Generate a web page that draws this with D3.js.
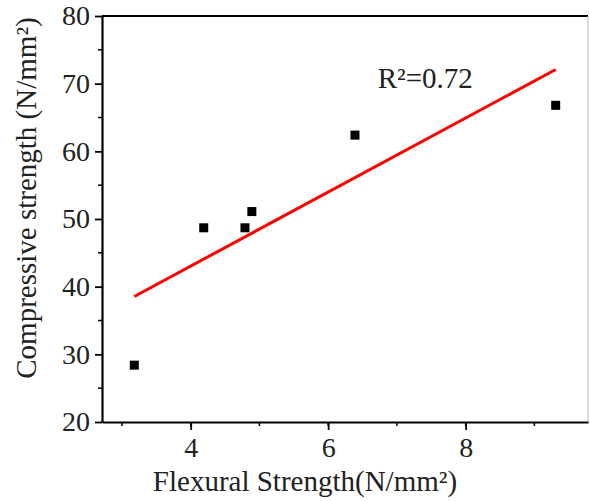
<!DOCTYPE html>
<html>
<head>
<meta charset="utf-8">
<script src="https://cdn.jsdelivr.net/npm/d3@7"></script>
<style>
  body { margin: 0; background: #fff; }
  text { font-family: "Liberation Serif", "Times New Roman", serif; }
</style>
</head>
<body>
<svg width="590" height="501"></svg>
<script>
// data
var flexural = [3.18, 4.19, 4.79, 4.89, 6.39, 9.31];
var compressive = [28.4, 48.7, 48.7, 51.1, 62.4, 66.8];
var xTicks = [4, 6, 8];
var yTicks = [20, 30, 40, 50, 60, 70, 80];
var r2Label = "R²=0.72";

var svg = d3.select("svg"),
    margin = {top: 16, right: 2, bottom: 79, left: 102},
    width = +svg.attr("width") - margin.left - margin.right,
    height = +svg.attr("height") - margin.top - margin.bottom,
    g = svg.append("g").attr("transform", "translate(" + margin.left + "," + margin.top + ")");

var x = d3.scaleLinear().domain([2.71, 9.78]).range([0, width]);
var y = d3.scaleLinear().domain([20, 80]).range([height, 0]);

// linear fit
var mx = d3.mean(flexural), my = d3.mean(compressive);
var sxy = d3.sum(flexural, function(d, i) { return (d - mx) * (compressive[i] - my); });
var sxx = d3.sum(flexural, function(d) { return (d - mx) * (d - mx); });
var slope = sxy / sxx, icpt = my - slope * mx;
var fitX = d3.extent(flexural);

// frame top / right
g.append("line").attr("x1", 0).attr("x2", width).attr("y1", 0).attr("y2", 0)
  .attr("stroke", "#000").attr("stroke-width", 2);
g.append("line").attr("x1", width).attr("x2", width).attr("y1", 0).attr("y2", height)
  .attr("stroke", "#bbb").attr("stroke-width", 1);

// minor ticks
g.append("g").selectAll("line").data(d3.range(3, 10))
  .enter().append("line")
  .attr("x1", function(d) { return x(d); }).attr("x2", function(d) { return x(d); })
  .attr("y1", height).attr("y2", height + 4)
  .attr("stroke", "#000").attr("stroke-width", 1.5);
g.append("g").selectAll("line").data([25, 35, 45, 55, 65, 75])
  .enter().append("line")
  .attr("y1", function(d) { return y(d); }).attr("y2", function(d) { return y(d); })
  .attr("x1", 0).attr("x2", -4)
  .attr("stroke", "#000").attr("stroke-width", 1.5);

// axes
var xAxis = g.append("g")
  .attr("transform", "translate(0," + height + ")")
  .call(d3.axisBottom(x).tickValues(xTicks).tickFormat(d3.format("d"))
    .tickSize(8).tickPadding(7).tickSizeOuter(0));
var yAxis = g.append("g")
  .call(d3.axisLeft(y).tickValues(yTicks).tickFormat(d3.format("d"))
    .tickSize(7).tickPadding(5).tickSizeOuter(0));

[xAxis, yAxis].forEach(function(a) {
  a.select(".domain").attr("stroke", "#000").attr("stroke-width", 2.2);
  a.selectAll(".tick line").attr("stroke", "#000").attr("stroke-width", 1.8);
  a.selectAll(".tick text").attr("font-size", 28).attr("fill", "#222")
    .style("font-family", "Liberation Serif");
});

// fit line
g.append("line")
  .attr("x1", x(fitX[0])).attr("y1", y(slope * fitX[0] + icpt))
  .attr("x2", x(fitX[1])).attr("y2", y(slope * fitX[1] + icpt))
  .attr("stroke", "#f00").attr("stroke-width", 3);

// points
g.append("g").selectAll("rect")
  .data(flexural)
  .enter().append("rect")
  .attr("x", function(d) { return x(d) - 4.5; })
  .attr("y", function(d, i) { return y(compressive[i]) - 4.5; })
  .attr("width", 9).attr("height", 9)
  .attr("fill", "#000");

// R² label
g.append("text")
  .attr("x", x(6.72)).attr("y", y(69.4))
  .attr("font-size", 29).attr("fill", "#222")
  .text(r2Label);

// axis titles
svg.append("text")
  .attr("x", 305).attr("y", 491)
  .attr("text-anchor", "middle")
  .attr("font-size", 29).attr("fill", "#222")
  .text("Flexural Strength(N/mm²)");

svg.append("text")
  .attr("transform", "translate(36,198) rotate(-90)")
  .attr("text-anchor", "middle")
  .attr("font-size", 29).attr("fill", "#222")
  .text("Compressive strength (N/mm²)");
</script>
</body>
</html>
